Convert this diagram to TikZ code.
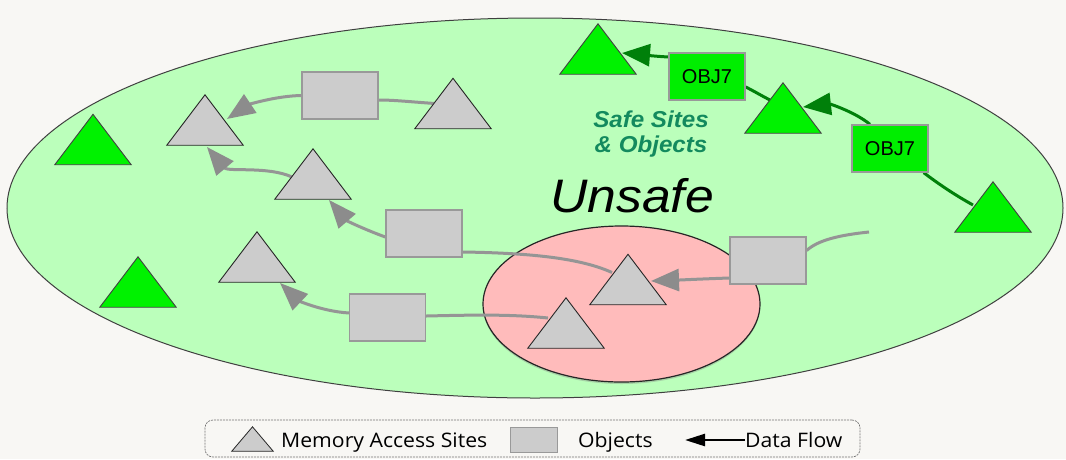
\documentclass[tikz,border=0pt]{standalone}
\usepackage{fontspec}
\usepackage{graphicx}
\setmainfont{Liberation Sans}
\newfontfamily\legfont[FakeStretch=1.06]{Open Sans}
\usetikzlibrary{arrows.meta,calc,shadows}
\definecolor{bgc}{HTML}{F8F7F4}
\definecolor{safefill}{HTML}{BBFFBB}
\definecolor{unsafefill}{HTML}{FFBBBB}
\definecolor{sitegray}{HTML}{CCCCCC}
\definecolor{boxedge}{HTML}{999999}
\definecolor{flowgray}{HTML}{959595}
\definecolor{headgray}{HTML}{8C8C8C}
\definecolor{safegreen}{HTML}{00F200}
\definecolor{objgreen}{HTML}{00EE00}
\definecolor{flowgreen}{HTML}{00800A}
\definecolor{labelgreen}{HTML}{138A5E}
\pgfdeclarelayer{bglayer}
\pgfdeclarelayer{midlayer}
\pgfsetlayers{bglayer,midlayer,main}
\tikzset{
  sitebox/.style={minimum width=76pt,minimum height=50pt,inner sep=0pt,draw=none},
  grayside/.style={fill=sitegray,draw=black!85,line width=0.9pt,line join=miter},
  greenside/.style={fill=safegreen,draw=black!75,line width=0.9pt,line join=miter},
  objbox/.style={fill=sitegray,draw=boxedge,line width=1.3pt,minimum width=76pt,minimum height=47pt,inner sep=0pt},
  obj7box/.style={fill=objgreen,draw=boxedge,line width=1.3pt,minimum width=76pt,minimum height=47pt,inner sep=0pt,font=\fontsize{20}{22}\selectfont},
  grayflow/.style={draw=flowgray,line width=3pt},
  grayarrow/.style={grayflow,-{Triangle[length=28pt,width=22pt,color=headgray]}},
  greenflow/.style={draw=flowgreen,line width=3pt},
  greenarrow/.style={greenflow,-{Triangle[length=28pt,width=22pt]}},
  legtext/.style={font=\legfont\fontsize{20}{22}\selectfont,anchor=base west,inner sep=0pt},
}
\newcommand\site[4]{%
  \node[sitebox] (#1) at (#2,#3) {};
  \draw[#4] (#1.south west) -- (#1.north) -- (#1.south east) -- cycle;}
\begin{document}
\begin{tikzpicture}[x=1pt,y=-1pt]
\useasboundingbox (0,0) rectangle (1066,459);
\begin{pgfonlayer}{bglayer}
  \fill[bgc] (0,0) rectangle (1066,459);
  \path[fill=safefill,draw=black!75,line width=1pt] (535,208) ellipse [x radius=528,y radius=190];
  \path[fill=unsafefill,draw=black!85,line width=1.2pt,drop shadow={opacity=0.35,shadow xshift=0pt,shadow yshift=-2pt}] (621.5,304) ellipse [x radius=138.5,y radius=78];
\end{pgfonlayer}

% gray memory access sites
\site{g1}{205}{120}{grayside}
\site{g2}{453}{103.5}{grayside}
\site{g3}{313}{174}{grayside}
\site{g4}{257}{257}{grayside}
\site{g5}{628}{279.5}{grayside}
\site{g6}{566}{323}{grayside}
% green safe sites
\site{t1}{598}{49}{greenside}
\site{t2}{783}{108}{greenside}
\site{t3}{993}{207}{greenside}
\site{tl1}{93}{139.5}{greenside}
\site{tl2}{138}{282}{greenside}

% objects
\node[objbox] (b1) at (340,95.5) {};
\node[objbox] (b2) at (424,233.5) {};
\node[objbox] (b3) at (387.5,317.5) {};
\node[objbox] (b4) at (768,260.5) {};
\node[obj7box] (o1) at (707,76.5) {OBJ7};
\node[obj7box] (o2) at (890,148.5) {OBJ7};

\coordinate (free) at (869,232);

\begin{pgfonlayer}{midlayer}
  % gray flows
  \draw[grayarrow] (b1.west) .. controls (275,96) and (248,105) .. ($(g1)+(22,-1)$);
  \draw[grayflow] ($(g2)+(-18,0)$) .. controls (412,102) and (395,100) .. ($(b1.east)+(0,4.5)$);
  \draw[grayarrow] ($(g3)+(-21,3)$) .. controls (268,166) and (228,172) .. ($(g1)+(2,27)$);
  \draw[grayarrow] ($(b2.west)+(0,3.5)$) .. controls (366,230) and (347,221) .. ($(g3)+(16,26)$);
  \draw[grayflow] ($(g5)+(-16,-7)$) .. controls (580,258) and (530,253) .. ($(b2.east)+(0,18.5)$);
  \draw[grayarrow] ($(b4.west)+(0,17.5)$) .. controls (700,279) and (680,280) .. ($(g5)+(23,1.5)$);
  \draw[grayflow] (free) .. controls (840,235) and (818,240) .. ($(b4.east)+(0,-10)$);
  \draw[grayflow] ($(g6)+(-18,-5)$) .. controls (510,314) and (470,315) .. ($(b3.east)+(0,-1.5)$);
  \draw[grayarrow] ($(b3.west)+(0,-4.5)$) .. controls (320,311) and (298,300) .. ($(g4)+(23,26)$);
  % green flows
  \draw[greenarrow] ($(o1.west)+(0,-19.5)$) .. controls (650,56) and (635,54) .. ($(t1)+(24,4)$);
  \draw[greenflow] ($(t2)+(-13,-8)$) .. controls (762,96) and (752,90) .. ($(o1.east)+(0,10.5)$);
  \draw[greenarrow] ($(o2.north)+(-20,0)$) .. controls (855,112) and (830,104) .. ($(t2)+(20,-1)$);
  \draw[greenflow] ($(o2.south east)+(-5,0)$) .. controls (940,185) and (955,195) .. ($(t3)+(-20,-2)$);
\end{pgfonlayer}

% labels
\node[text=labelgreen,font=\bfseries\itshape\fontsize{23}{27}\selectfont,align=center,inner sep=0pt] (safe) at (651,134) {\scalebox{1.05}[1]{Safe Sites}\\[-2pt]\scalebox{1.05}[1]{\& Objects}};
\node[font=\itshape\fontsize{47}{50}\selectfont,inner sep=0pt] (unsafe) at (632,196) {\scalebox{1.1}[1]{Unsafe}};

% legend
\node[draw=black!55,dashed,dash pattern=on 2pt off 1pt,rounded corners=8pt,line width=0.7pt,minimum width=655pt,minimum height=37pt,inner sep=0pt] (legend) at (532.5,438.5) {};
\node[minimum width=41pt,minimum height=24pt,inner sep=0pt] (lt) at (252.5,439) {};
\draw[grayside,line width=0.8pt] (lt.south west) -- (lt.north) -- (lt.south east) -- cycle;
\node[legtext] (lmas) at (281,447) {Memory Access Sites};
\node[objbox,minimum width=47pt,minimum height=25pt,line width=1pt] (lbox) at (533.5,439.5) {};
\node[legtext] (lobj) at (578,447) {Objects};
\node[legtext] (ldf) at (745,447) {Data Flow};
\coordinate (ltip) at (685,440);
\draw[line width=2.5pt,-{Triangle[length=20pt,width=12pt]}] ($(ldf.base west)+(0,-7)$) -- (ltip);
\end{tikzpicture}
\end{document}
